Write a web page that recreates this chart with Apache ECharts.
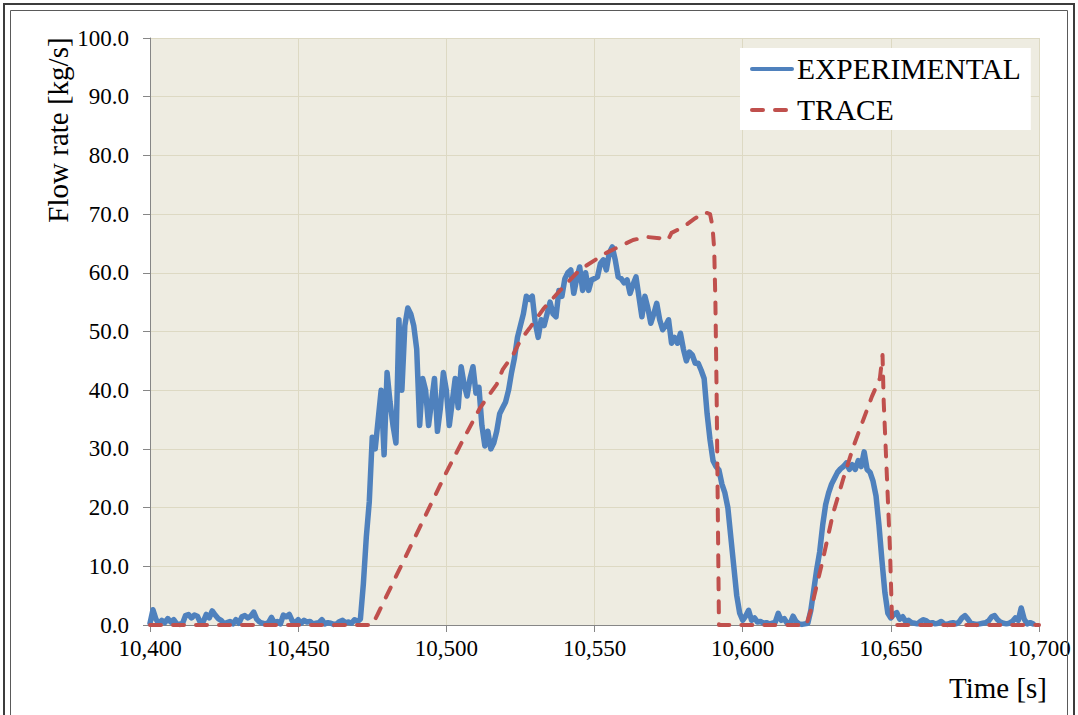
<!DOCTYPE html>
<html>
<head>
<meta charset="utf-8">
<title>Flow rate</title>
<script src="https://cdn.jsdelivr.net/npm/echarts@6/dist/echarts.min.js"></script>
<style>
  html, body { margin: 0; padding: 0; background: #ffffff; }
  #chart { width: 1078px; height: 715px; }
</style>
</head>
<body>
<div id="chart"></div>
<script>
// Measured flow, sampled once per second from expStart
const expStart = 10400;
const expStep = 1;
const expFlow = [
  0.3, 2.6, 1.0, 0.2, 0.8, 0.4, 1.1, 0.5, 0.9, 0.2,
  0.1, 0.3, 1.6, 1.8, 1.2, 1.7, 1.5, 0.4, 0.6, 1.8,
  1.2, 2.4, 1.7, 1.1, 0.8, 0.2, 0.4, 0.6, 0.2, 0.9,
  0.3, 1.4, 1.6, 1.2, 1.5, 2.2, 1.0, 0.5, 0.3, 0.2,
  0.4, 1.3, 0.3, 0.6, 0.2, 1.7, 1.4, 1.8, 0.7, 0.4,
  0.9, 0.3, 0.8, 0.5, 0.6, 0.2, 0.3, 0.4, 0.9, 0.2,
  0.4, 0.3, 0.1, 0.2, 0.6, 0.8, 0.4, 0.5, 0.3, 0.9,
  0.6, 1.0,
  7, 15, 21, 32, 30, 35, 40, 29,
  43, 38, 34, 31, 52, 40, 51, 54, 53, 51,
  47, 34, 42, 40, 34, 38, 42, 33, 37, 43,
  40, 34, 38, 42, 37, 44, 41, 39, 42, 44,
  39.5, 40.5, 34, 30.5, 33, 30, 31, 33, 36, 37,
  38, 40, 43, 45.5, 49, 51, 53, 56, 55.5, 56,
  51.5, 49, 52, 51, 53, 55, 53, 52.5, 57, 56,
  59, 60, 60.5, 56.5, 59, 61, 57, 60, 57, 58.8,
  59, 59.3, 61.6, 62.2, 60.5, 63.4, 64.4, 62.2, 59.3, 59,
  58.3, 58.8, 56.5, 58, 59.3, 55.9, 52.5, 56, 54, 51.4,
  53, 54.8, 52, 50.3, 51, 52, 48, 49, 48, 49.7,
  47, 45, 46.5, 46, 44.6, 44.6, 43.4, 42, 36, 31.5,
  28, 27, 26.4, 24, 22.5, 20, 15, 10, 5, 2,
  0.8,
  1.5, 2.5, 0.8, 1.2, 0.5, 0.6, 0.3, 0.4, 0.2,
  0.3, 0.5, 2.0, 0.8, 1.1, 0.3, 0.2, 1.5, 0.6, 0.2,
  0.1, 0.2, 0.3,
  2.5, 6, 9.5, 12.5, 17, 20.5, 22.5,
  24, 25, 26, 26.6, 27, 27.6, 26.5, 27.3, 26.5, 28,
  27, 29.5, 26.5, 26, 24.5, 22, 17, 11, 5.5, 2,
  1.2,
  1.8, 2.1, 1.0, 1.4, 0.6, 0.8, 0.4, 0.3, 0.2,
  0.6, 0.9, 0.7, 0.3, 0.4, 0.2, 0.3, 0.6, 0.2, 0.1,
  0.3, 0.4, 0.2, 0.5, 1.2, 1.6, 1.0, 0.3, 0.2, 0.1,
  0.2, 0.3, 0.4, 0.7, 1.4, 1.6, 0.9, 0.5, 0.3, 0.2,
  0.3, 0.6, 1.2, 0.8, 2.9, 1.0, 0.2, 0.4, 0.2
];

// TRACE simulation output
const traceTime = [
  10400, 10475, 10477, 10500, 10505.6, 10511.4, 10517, 10519, 10522.5, 10525,
  10528, 10533, 10538.4, 10545, 10554, 10563, 10567.7, 10572, 10574.8, 10576,
  10580, 10584, 10587.3, 10589, 10589.8, 10590.4, 10590.8, 10591.2, 10591.6, 10592,
  10621.5, 10623, 10627, 10630.5, 10634, 10637.3, 10640.3, 10643.6, 10646.3, 10647.2,
  10647.6, 10648.7, 10649.7, 10650.4, 10650.7, 10700
];
const traceFlow = [
  0, 0, 2, 26, 31.5, 37, 41, 43.5, 46, 48.5,
  50.5, 54, 57, 60.5, 63.4, 65.6, 66.1, 65.9, 65.6, 66.8,
  67.8, 69.3, 70.3, 70, 68, 64, 55, 40, 20, 0,
  0, 2.5, 11, 19, 25, 30.3, 34.4, 38.9, 42, 46,
  38, 25, 13, 1, 0, 0
];

const seriesNames = ['EXPERIMENTAL', 'TRACE'];
const xAxisName = 'Time [s]';
const yAxisName = 'Flow rate [kg/s]';

const serif = "'Liberation Serif', 'Times New Roman', 'DejaVu Serif', serif";

const expData = expFlow.map((v, i) => [expStart + i * expStep, v]);
const traceData = traceTime.map((t, i) => [t, traceFlow[i]]);

const chart = echarts.init(document.getElementById('chart'), null, { renderer: 'svg' });

chart.setOption({
  backgroundColor: '#ffffff',
  animation: false,
  grid: {
    left: 150, right: 39, top: 38, bottom: 90,
    show: true, backgroundColor: '#EEECE1', borderWidth: 0
  },
  legend: {
    orient: 'vertical',
    left: 740, top: 48,
    padding: [6, 10, 5, 10],
    itemGap: 11,
    itemWidth: 40, itemHeight: 30,
    backgroundColor: '#ffffff',
    itemStyle: { opacity: 0 },
    lineStyle: { width: 4 },
    textStyle: { fontFamily: serif, fontSize: 29.5, color: '#000000', lineHeight: 30 },
    data: seriesNames
  },
  xAxis: {
    type: 'value',
    min: 10400, max: 10700, interval: 50,
    axisLine: { show: true, lineStyle: { color: '#868686', width: 1 } },
    axisTick: { show: true, length: 7, inside: false, lineStyle: { color: '#868686' } },
    axisLabel: {
      margin: 12, color: '#000000', fontFamily: serif, fontSize: 23,
      formatter: v => v.toLocaleString('en-US')
    },
    splitLine: { show: true, lineStyle: { color: '#DDD9C3', width: 1 } }
  },
  yAxis: {
    type: 'value',
    min: 0, max: 100, interval: 10,
    axisLine: { show: true, lineStyle: { color: '#868686', width: 1 } },
    axisTick: { show: true, length: 7, inside: false, lineStyle: { color: '#868686' } },
    axisLabel: {
      margin: 21, color: '#000000', fontFamily: serif, fontSize: 23,
      formatter: v => v.toFixed(1)
    },
    splitLine: { show: true, lineStyle: { color: '#DDD9C3', width: 1 } }
  },
  series: [
    {
      name: seriesNames[0],
      type: 'line',
      data: expData,
      showSymbol: false,
      symbol: 'none',
      clip: false,
      z: 3,
      color: '#4F81BD',
      lineStyle: { color: '#4F81BD', width: 5.5, join: 'round', cap: 'round' }
    },
    {
      name: seriesNames[1],
      type: 'line',
      data: traceData,
      showSymbol: false,
      symbol: 'none',
      clip: false,
      z: 4,
      color: '#C0504D',
      lineStyle: { color: '#C0504D', width: 4, type: [11, 12], cap: 'round', join: 'round' }
    }
  ],
  graphic: [
    // double frame around the whole chart
    { type: 'rect', shape: { x: 4, y: 4, width: 1070, height: 730 },
      style: { fill: 'none', stroke: '#3c3c3c', lineWidth: 2 }, silent: true, z: 100 },
    { type: 'rect', shape: { x: 10.5, y: 10.5, width: 1057, height: 730 },
      style: { fill: 'none', stroke: '#5a5a5a', lineWidth: 1 }, silent: true, z: 100 },
    // axis titles
    { type: 'text', x: 58, y: 130, rotation: Math.PI / 2,
      style: { text: yAxisName, fill: '#000000', font: '29px ' + serif,
               textAlign: 'center', textVerticalAlign: 'middle' }, z: 100 },
    { type: 'text', x: 998, y: 688,
      style: { text: xAxisName, fill: '#000000', font: '29px ' + serif,
               textAlign: 'center', textVerticalAlign: 'middle' }, z: 100 }
  ]
});
</script>
</body>
</html>
